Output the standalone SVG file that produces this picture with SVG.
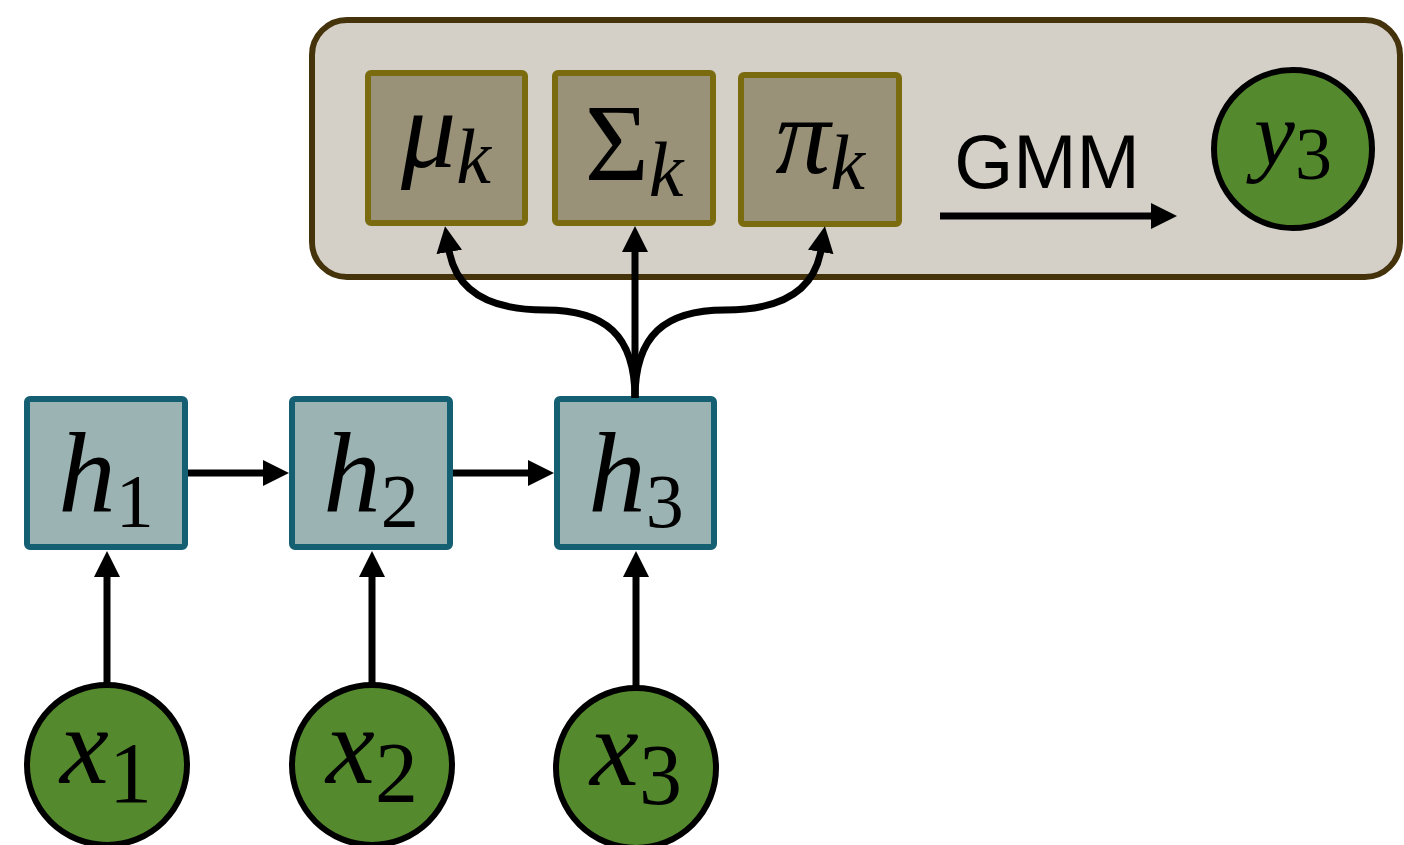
<svg xmlns="http://www.w3.org/2000/svg" width="1404" height="845" viewBox="0 0 1404 845">
<defs>
<style>
.math{font-family:"Liberation Serif","DejaVu Serif",serif;fill:#000}
.it{font-style:italic}
.hbox{fill:#9bb3b3;stroke:#155f72;stroke-width:6}
.pbox{fill:#999178;stroke:#7b6b0f;stroke-width:6}
.obs{fill:#548a2d;stroke:#000;stroke-width:6}
.conn{fill:none;stroke:#000;stroke-width:7}
</style>
<marker id="ah" markerUnits="userSpaceOnUse" markerWidth="26" markerHeight="26" viewBox="0 0 26 26" refX="2" refY="13" orient="auto">
<path d="M0,0 L26,13 L0,26 z" fill="#000"/>
</marker>
</defs>
<rect width="1404" height="845" fill="#fff"/>
<g id="gmm-panel">
<rect x="312" y="20" width="1088" height="257" rx="35" fill="#d4d0c8" stroke="#45330c" stroke-width="6"/>
</g>
<g id="mu">
<rect class="pbox" x="368" y="73" width="157" height="150" rx="3"/>
<text class="math" x="446" y="167" text-anchor="middle" font-size="110"><tspan class="it">μ</tspan><tspan class="it" font-size="78" dy="16">k</tspan></text>
</g>
<g id="sigma">
<rect class="pbox" x="555" y="73" width="158" height="150" rx="3"/>
<text class="math" x="634" y="180" text-anchor="middle" font-size="110"><tspan>Σ</tspan><tspan class="it" font-size="78" dy="16">k</tspan></text>
</g>
<g id="pi">
<rect class="pbox" x="741" y="75" width="158" height="149" rx="3"/>
<text class="math" x="820" y="173" text-anchor="middle" font-size="110"><tspan class="it">π</tspan><tspan class="it" font-size="78" dy="16">k</tspan></text>
</g>
<g id="gmm-label">
<text x="1047" y="188" text-anchor="middle" font-family="Liberation Sans, Arial, sans-serif" font-size="76" fill="#000">GMM</text>
</g>
<g id="y3">
<circle class="obs" cx="1293" cy="149" r="79"/>
<text class="math" x="1293" y="165" text-anchor="middle" font-size="92"><tspan class="it">y</tspan><tspan font-size="74" dy="14">3</tspan></text>
</g>
<g id="h1">
<rect class="hbox" x="27" y="399" width="158" height="148" rx="3"/>
<text class="math" x="106" y="512" text-anchor="middle" font-size="115"><tspan class="it">h</tspan><tspan font-size="76" dy="15">1</tspan></text>
</g>
<g id="h2">
<rect class="hbox" x="292" y="399" width="158" height="148" rx="3"/>
<text class="math" x="371" y="512" text-anchor="middle" font-size="115"><tspan class="it">h</tspan><tspan font-size="76" dy="15">2</tspan></text>
</g>
<g id="h3">
<rect class="hbox" x="557" y="399" width="157" height="148" rx="3"/>
<text class="math" x="636" y="512" text-anchor="middle" font-size="115"><tspan class="it">h</tspan><tspan font-size="76" dy="15">3</tspan></text>
</g>
<g id="x1">
<circle class="obs" cx="107" cy="765" r="80"/>
<text class="math" x="106" y="783" text-anchor="middle" font-size="110"><tspan class="it">x</tspan><tspan font-size="86" dy="19">1</tspan></text>
</g>
<g id="x2">
<circle class="obs" cx="372" cy="765" r="80"/>
<text class="math" x="372" y="783" text-anchor="middle" font-size="110"><tspan class="it">x</tspan><tspan font-size="86" dy="19">2</tspan></text>
</g>
<g id="x3">
<circle class="obs" cx="636" cy="768" r="80"/>
<text class="math" x="636" y="785" text-anchor="middle" font-size="110"><tspan class="it">x</tspan><tspan font-size="86" dy="19">3</tspan></text>
</g>
<g id="connectors">
<path class="conn" d="M107,684 L107,575" marker-end="url(#ah)"/>
<path class="conn" d="M372,684 L372,575" marker-end="url(#ah)"/>
<path class="conn" d="M636,687 L636,575" marker-end="url(#ah)"/>
<path class="conn" d="M188,473 L265,473" marker-end="url(#ah)"/>
<path class="conn" d="M453,473 L530,473" marker-end="url(#ah)"/>
<path class="conn" d="M635,398 L635,250" marker-end="url(#ah)"/>
<path class="conn" d="M635,398 C635,335 605,310 545,310 C490,310 456,292 449,250" marker-end="url(#ah)"/>
<path class="conn" d="M635,398 C635,335 665,310 725,310 C780,310 814,292 821,250" marker-end="url(#ah)"/>
<path class="conn" d="M940,216 L1153,216" marker-end="url(#ah)"/>
</g>
</svg>
